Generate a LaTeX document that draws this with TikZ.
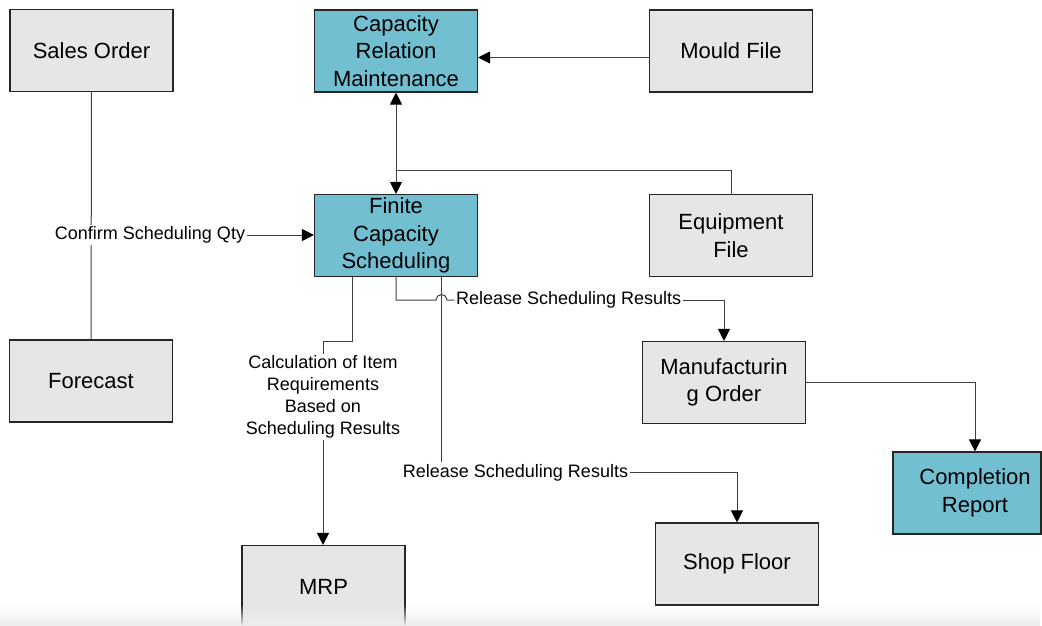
\documentclass[tikz,border=0pt]{standalone}
\usepackage{fontspec}
\setmainfont{Liberation Sans}
\usetikzlibrary{arrows.meta,fadings}
\definecolor{boxgray}{RGB}{230,230,230}
\definecolor{boxteal}{RGB}{114,191,210}
\definecolor{linegray}{RGB}{64,64,64}

\begin{document}
\begin{tikzpicture}[x=1pt,y=-1pt,
		box/.style={rectangle,draw=black!85,line width=1.1pt,fill=boxgray,minimum width=163pt,minimum height=82pt,inner sep=0pt,align=center,font=\fontsize{22}{27.5}\selectfont},
		key box/.style={box,fill=boxteal},
		box text/.style={inner sep=0pt,align=center,font=\fontsize{22}{27.5}\selectfont},
		flow/.style={draw=linegray,line width=1pt},
		arr/.style={flow,-{Triangle[length=12pt,width=12pt,color=black]}},
		darr/.style={flow,{Triangle[length=12pt,width=12pt,color=black]}-{Triangle[length=12pt,width=12pt,color=black]}},
		flow label/.style={fill=white,inner sep=1.5pt,align=center,font=\fontsize{18}{22}\selectfont}
		]
		
		\useasboundingbox (0,0) rectangle (1042,626);
		\clip (0,0) rectangle (1042,626);
		
		\node[box] (sales) at (91.5,50.5) {Sales Order};
		\node[key box] (crm) at (396,51) {Capacity\\Relation\\Maintenance};
		\node[box] (mould) at (731,51) {Mould File};
		\node[key box] (fcs) at (396,235.5) {Finite\\Capacity\\Scheduling};
		\node[box] (equip) at (731,235.5) {Equipment\\File};
		\node[box] (forecast) at (91,381) {Forecast};
		\node[box] (mfg) at (724,382.5) {Manufacturin\\g Order};
		\node[key box,minimum width=148pt] (comp) at (967,493) {};
		\node[box text] (comp text) at (975,493) {Completion\\Report};
		\node[box] (shop) at (737,564) {Shop Floor};
		\node[box] (mrp) at (323.5,586.5) {MRP};
		
		\draw[arr] (mould.west |- 0,57.5) -- (crm.east |- 0,57.5);
		\draw[darr] (crm.south) -- (fcs.north);
		\draw[flow] (equip.north) |- (crm.south |- 0,170.7);
		
		\draw[flow] (sales) -- (forecast);
		\node[flow label] (confirm) at (150,235) {Confirm Scheduling Qty};
		\draw[arr] (confirm.east) -- (confirm.east -| fcs.west);
		
		\node[flow label] (rel1) at (568.7,300) {Release Scheduling Results};
		\draw[flow] (fcs.south) |- (436,300) arc (180:360:5.5) -- (rel1.west);
		\draw[arr] (rel1.east) -| (mfg.north);
		
		\node[flow label] (calc) at (323,397) {Calculation of Item\\Requirements\\Based on\\Scheduling Results};
		\draw[flow] (fcs.south -| 352.3,0) |- (323,341.7) -- (calc.north);
		\draw[arr] (calc.south) -- (calc.south |- mrp.north);
		
		\node[flow label] (rel2) at (515.5,472.5) {Release Scheduling Results};
		\draw[flow] (fcs.south -| 441.5,0) -- (rel2.north -| 441.5,0);
		\draw[arr] (rel2.east) -| (shop.north);
		
		\draw[arr] (mfg.east) -| (comp.north -| 975,0);
		
		\fill[black!7,path fading=north] (0,604) rectangle (1042,626);
		\end{tikzpicture}
\end{document}
